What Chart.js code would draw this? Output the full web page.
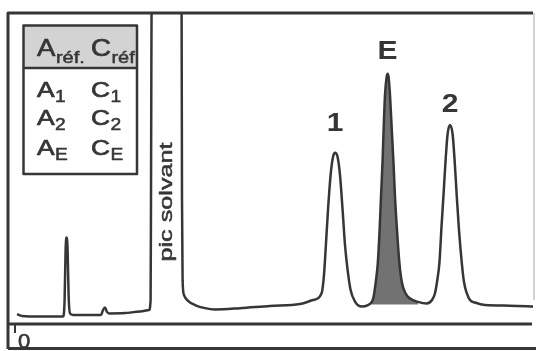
<!DOCTYPE html>
<html>
<head>
<meta charset="utf-8">
<script src="https://cdn.jsdelivr.net/npm/chart.js@4.4.1/dist/chart.umd.min.js"></script>
<style>
  html, body { margin: 0; padding: 0; background: #fff; }
  canvas { display: block; }
</style>
</head>
<body>
<canvas id="chromato" width="536" height="351"></canvas>
<script>
// retention time (min) and detector signal (% of full scale)
const times = [
  0.15, 0.4, 1.3, 2.45, 2.53, 2.58, 2.63, 2.68, 2.73, 2.8, 2.95, 3.8, 4.35, 4.45, 4.55, 4.65, 4.75,
  5.55, 6.3, 6.75, 6.83, 6.85, 6.9, 7.4, 8.2, 8.38, 8.4, 8.43, 8.5, 8.7, 9.05, 9.55, 10.05, 11.3,
  12.8, 14.3, 14.95, 15.38, 15.5, 15.58, 15.7, 15.83, 15.95, 16.05, 16.18, 16.3, 16.43, 16.55,
  16.68, 16.83, 17.05, 17.39, 17.7, 17.89, 17.98, 18.1, 18.19, 18.28, 18.35, 18.43, 18.48, 18.55,
  18.63, 18.68, 18.73, 18.8, 18.89, 18.98, 19.05, 19.15, 19.27, 19.4, 19.6, 19.8, 20.2, 20.64,
  20.9, 21.05, 21.18, 21.27, 21.38, 21.47, 21.58, 21.68, 21.8, 21.93, 22.03, 22.14, 22.25, 22.39,
  22.5, 22.64, 22.8, 23.05, 23.55, 24.8, 26.1
];
const signal = [
  3.2, 2.6, 2.4, 2.4, 7.7, 23.8, 27.8, 23.8, 9.3, 3.4, 2.9, 2.9, 2.9, 4.5, 5.3, 3.9, 3.4,
  3.5, 4.0, 4.5, 7.7, 39.9, 140, 160, 140, 100, 39.9, 14.1, 9.3, 7.4, 6.1, 5.1, 4.7, 5.1,
  5.8, 6.4, 7.7, 9.9, 15.8, 23.8, 36.7, 47.9, 53.7, 55.1, 53.7, 47.9, 36.7, 25.4,
  17.4, 10.9, 7.2, 5.6, 6.1, 7.1, 8.8, 14.1, 19.6, 30.2, 40.9, 52.7, 62.4, 73.6,
  79.4, 80.5, 79.4, 73.6, 62.4, 51.1, 40.9, 30.2, 19.6, 13.2, 9.6, 8.2, 7.1, 6.6,
  7.7, 9.9, 14.8, 19.6, 31.8, 40.9, 52.7, 61.1, 64.0, 61.1, 52.7, 40.9, 30.2, 19.6,
  13.5, 9.9, 7.7, 6.9, 6.1, 5.9, 5.6
];

// shaded peak E (integration window) and its baseline
const eStart = 17.89;
const eEnd = 20.2;
const eBaseline = 6.3;

const peakNames = ['1', 'E', '2'];
const peakTimes = [16.05, 18.68, 21.8];

const solventLabel = 'pic solvant';
const solventTime = 7.6;

const tickValues = [0];
const tickLabels = ['0'];

// calibration table: [letter, subscript]
const tableHeader = [['A', 'réf.'], ['C', 'réf']];
const tableRows = [
  [['A', '1'], ['C', '1']],
  [['A', '2'], ['C', '2']],
  [['A', 'E'], ['C', 'E']]
];

const ink = '#363636';
const points = times.map((t, i) => ({ x: t, y: signal[i] }));
const ePoints = points.filter(p => p.x >= eStart && p.x <= eEnd);

// draw text stretched horizontally and slightly thickened (scanned lettering)
function wideText(ctx, s, x, y, font, sx, align, weight) {
  ctx.save();
  ctx.font = font;
  ctx.translate(x, y);
  ctx.scale(sx, 1);
  ctx.textAlign = align || 'left';
  ctx.fillText(s, 0, 0);
  if (weight) {
    ctx.lineWidth = weight;
    ctx.strokeText(s, 0, 0);
  }
  const w = ctx.measureText(s).width * sx;
  ctx.restore();
  return w;
}

const decor = {
  id: 'decor',
  afterDatasetsDraw(chart) {
    const { ctx, chartArea: a, scales: { x, y } } = chart;
    ctx.save();
    ctx.strokeStyle = ink;
    ctx.fillStyle = ink;
    ctx.lineCap = 'butt';
    ctx.lineJoin = 'round';

    // frame
    ctx.lineWidth = 3;
    ctx.beginPath();
    ctx.moveTo(a.left, 349); ctx.lineTo(a.left, a.top); ctx.lineTo(a.right, a.top);
    ctx.moveTo(a.left, a.bottom); ctx.lineTo(a.right - 1, a.bottom);
    ctx.moveTo(a.left, 348.5); ctx.lineTo(536, 348.5);
    ctx.stroke();
    ctx.strokeStyle = '#c4c4c4';
    ctx.lineWidth = 1.5;
    ctx.beginPath(); ctx.moveTo(534, a.top); ctx.lineTo(534, 300); ctx.stroke();

    // time origin tick
    ctx.strokeStyle = ink;
    ctx.lineWidth = 2;
    tickValues.forEach((v, i) => {
      const px = x.getPixelForValue(v) + 1;
      ctx.beginPath(); ctx.moveTo(px, a.bottom); ctx.lineTo(px, a.bottom + 9); ctx.stroke();
      ctx.textBaseline = 'alphabetic';
      wideText(ctx, tickLabels[i], px + 3, 348, '21px "Liberation Sans", Arial, sans-serif', 1.05, 'left', 0.6);
    });

    // peak labels
    const offs = [29, 22, 20];
    peakNames.forEach((n, i) => {
      const t = peakTimes[i];
      const v = signal[times.indexOf(t)];
      const px = x.getPixelForValue(t);
      const py = y.getPixelForValue(v) - offs[i];
      ctx.textBaseline = 'middle';
      wideText(ctx, n, px, py, 'bold 25px "Liberation Sans", Arial, sans-serif', 1.2, 'center');
    });

    // solvent label, rotated
    ctx.save();
    ctx.translate(x.getPixelForValue(solventTime) + 6, 202);
    ctx.rotate(-Math.PI / 2);
    ctx.font = '19px "Liberation Sans", Arial, sans-serif';
    const sw = ctx.measureText(solventLabel).width;
    ctx.scale(119 / sw, 1);
    ctx.textAlign = 'center';
    ctx.textBaseline = 'alphabetic';
    ctx.fillText(solventLabel, 0, 0);
    ctx.lineWidth = 0.5;
    ctx.strokeText(solventLabel, 0, 0);
    ctx.restore();

    // table
    const tx0 = 23.5, tx1 = 137, ty0 = 25.5, tyH = 68, ty1 = 174;
    ctx.fillStyle = '#fff';
    ctx.fillRect(tx0, ty0, tx1 - tx0, ty1 - ty0);
    ctx.fillStyle = '#d3d3d3';
    ctx.fillRect(tx0, ty0, tx1 - tx0, tyH - ty0);
    ctx.lineWidth = 2.5;
    ctx.strokeStyle = ink;
    ctx.strokeRect(tx0, ty0, tx1 - tx0, ty1 - ty0);
    ctx.beginPath(); ctx.moveTo(tx0, tyH); ctx.lineTo(tx1, tyH); ctx.stroke();

    ctx.fillStyle = ink;
    ctx.textBaseline = 'alphabetic';
    const big = '22px "Liberation Sans", Arial, sans-serif';
    const small = '16px "Liberation Sans", Arial, sans-serif';
    const colX = [37, 91];
    tableHeader.forEach(([l, s], c) => {
      const w = wideText(ctx, l, colX[c], 56, '23px "Liberation Sans", Arial, sans-serif', 1.2, 'left', 0.7);
      wideText(ctx, s, colX[c] + w + 0.5, 63, small, 1.25, 'left', 0.5);
    });
    const rowY = [97, 125, 155];
    tableRows.forEach((row, r) => {
      row.forEach(([l, s], c) => {
        const w = wideText(ctx, l, colX[c], rowY[r], big, 1.2, 'left', 0.7);
        wideText(ctx, s, colX[c] + w + 0.5, rowY[r] + 5, small, 1.2, 'left', 0.5);
      });
    });
    ctx.restore();
  }
};

new Chart(document.getElementById('chromato'), {
  type: 'line',
  data: {
    datasets: [
      {
        label: 'signal',
        data: points,
        borderColor: ink,
        borderWidth: 2.5,
        pointRadius: 0,
        cubicInterpolationMode: 'monotone',
        fill: false,
        order: 1
      },
      {
        label: 'pic E',
        data: ePoints,
        borderWidth: 0,
        borderColor: 'rgba(0,0,0,0)',
        backgroundColor: '#727272',
        pointRadius: 0,
        cubicInterpolationMode: 'monotone',
        fill: { value: eBaseline },
        order: 2
      }
    ]
  },
  options: {
    responsive: false,
    devicePixelRatio: 1,
    animation: false,
    layout: { padding: { left: 8, right: 3, top: 13, bottom: 27 } },
    plugins: { legend: { display: false }, tooltip: { enabled: false } },
    scales: {
      x: { type: 'linear', min: -0.3, max: 25.95, display: false },
      y: { min: 0, max: 100, display: false }
    }
  },
  plugins: [decor]
});
</script>
</body>
</html>
